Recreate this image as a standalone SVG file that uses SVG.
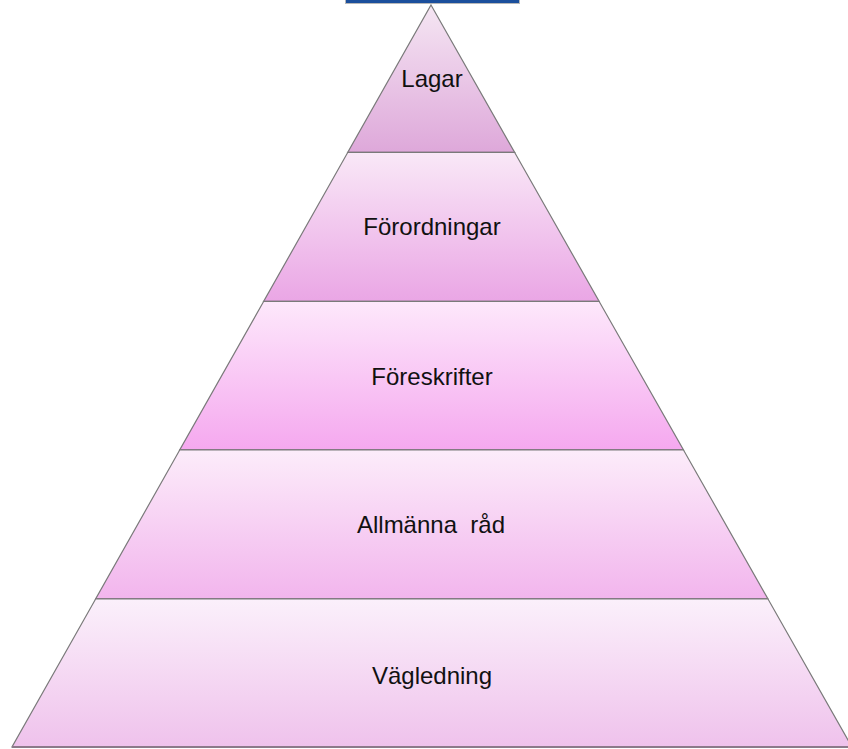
<svg xmlns="http://www.w3.org/2000/svg" width="848" height="749" viewBox="0 0 848 749">
  <defs>
    <linearGradient id="g1" x1="0" y1="0" x2="0" y2="1">
      <stop offset="0" stop-color="#f5e6f3"/>
      <stop offset="1" stop-color="#dea8da"/>
    </linearGradient>
    <linearGradient id="g2" x1="0" y1="0" x2="0" y2="1">
      <stop offset="0" stop-color="#f9e8f7"/>
      <stop offset="1" stop-color="#eaa6e5"/>
    </linearGradient>
    <linearGradient id="g3" x1="0" y1="0" x2="0" y2="1">
      <stop offset="0" stop-color="#fde8fb"/>
      <stop offset="1" stop-color="#f5a8ef"/>
    </linearGradient>
    <linearGradient id="g4" x1="0" y1="0" x2="0" y2="1">
      <stop offset="0" stop-color="#fcecfa"/>
      <stop offset="1" stop-color="#f2b5ed"/>
    </linearGradient>
    <linearGradient id="g5" x1="0" y1="0" x2="0" y2="1">
      <stop offset="0" stop-color="#fbf0fb"/>
      <stop offset="1" stop-color="#efc2ec"/>
    </linearGradient>
  </defs>
  <style>
    .layer { stroke: #7a7a7a; stroke-width: 1.2; stroke-linejoin: miter; }
    .base { stroke: #8c7a8a; stroke-width: 2; fill: none; }
    .label { font-family: "Liberation Sans", Arial, sans-serif; font-size: 24px; fill: #111111; text-anchor: middle; }
  </style>
  <rect width="848" height="749" fill="#ffffff"/>
  <rect x="345.5" y="-2" width="174" height="5.5" fill="#1b4f9c" stroke="#b8b8b8" stroke-width="1"/>

  <g id="layer-lagar">
    <polygon class="layer" fill="url(#g1)" points="431,5 514.7,152.5 347.7,152.5"/>
    <line class="base" x1="347.7" y1="152.5" x2="514.7" y2="152.5"/>
    <text class="label" x="432" y="87">Lagar</text>
  </g>
  <g id="layer-forordningar">
    <polygon class="layer" fill="url(#g2)" points="347.7,152.5 514.7,152.5 599.2,301.5 263.6,301.5"/>
    <line class="base" x1="263.6" y1="301.5" x2="599.2" y2="301.5"/>
    <text class="label" x="432" y="235">Förordningar</text>
  </g>
  <g id="layer-foreskrifter">
    <polygon class="layer" fill="url(#g3)" points="263.6,301.5 599.2,301.5 683.5,450 179.7,450"/>
    <line class="base" x1="179.7" y1="450" x2="683.5" y2="450"/>
    <text class="label" x="432" y="385">Föreskrifter</text>
  </g>
  <g id="layer-allmanna-rad">
    <polygon class="layer" fill="url(#g4)" points="179.7,450 683.5,450 768,599 95.6,599"/>
    <line class="base" x1="95.6" y1="599" x2="768" y2="599"/>
    <text class="label" x="431" y="533" xml:space="preserve">Allmänna  råd</text>
  </g>
  <g id="layer-vagledning">
    <polygon class="layer" fill="url(#g5)" points="95.6,599 768,599 852,747 12,747"/>
    <line class="base" x1="12" y1="747" x2="852" y2="747"/>
    <text class="label" x="432" y="684">Vägledning</text>
  </g>
  <g id="connectors"/>
</svg>
